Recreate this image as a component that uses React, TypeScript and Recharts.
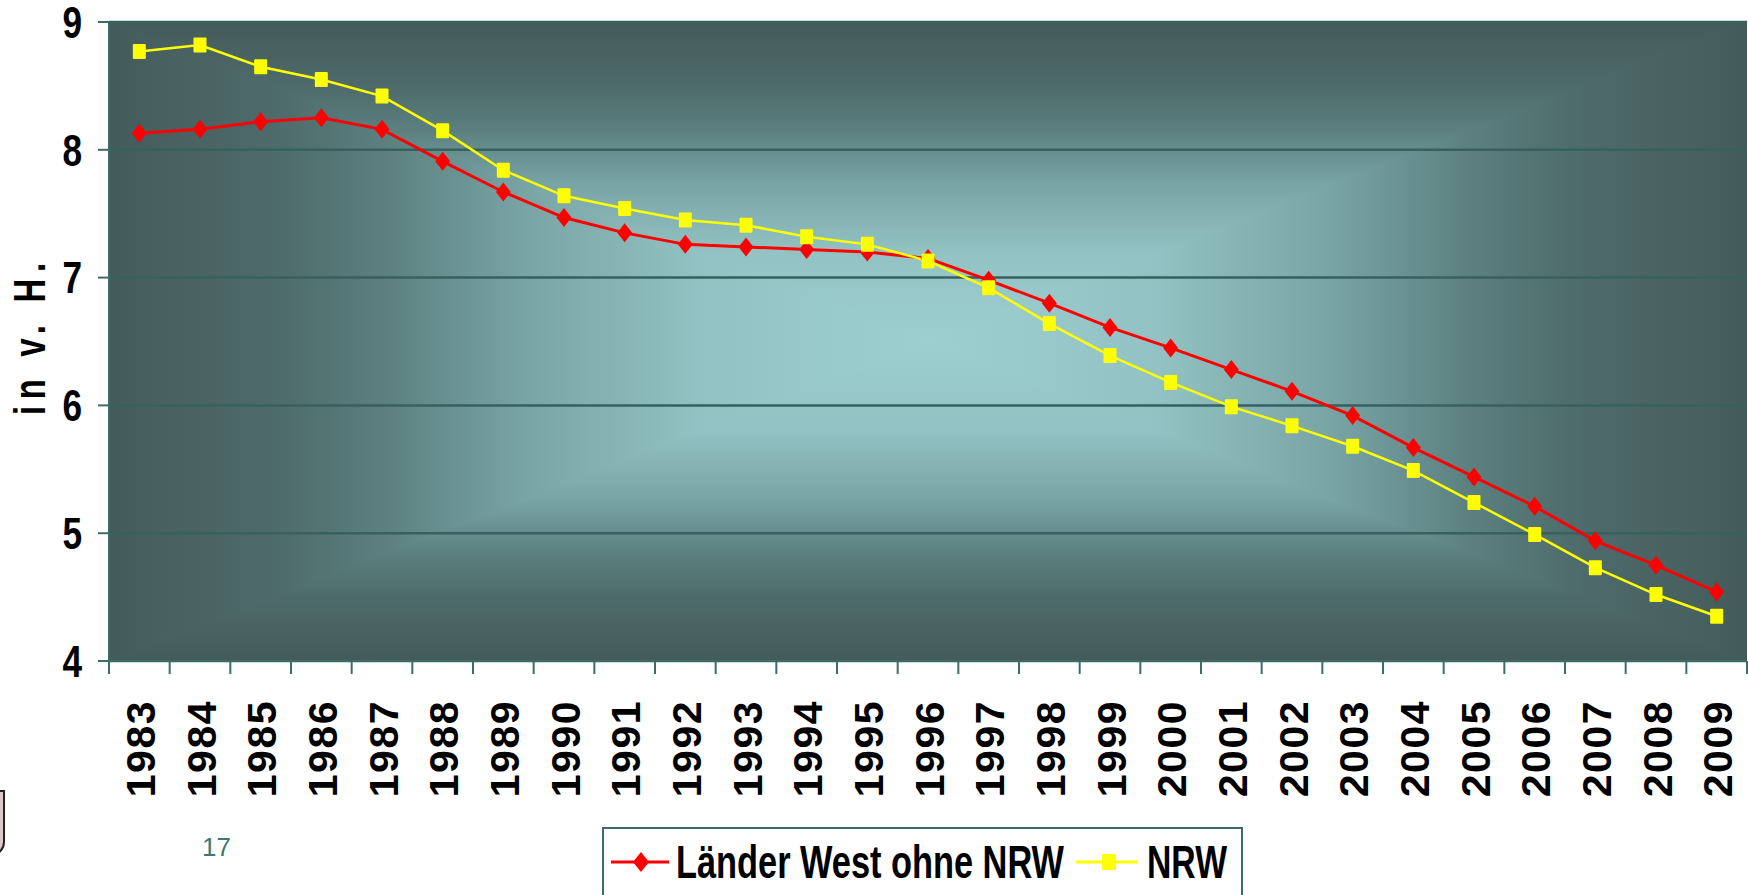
import React from 'react';
import { LineChart, Line, XAxis, YAxis, CartesianGrid } from 'recharts';

// Anteile in v. H.
const years = [
  '1983', '1984', '1985', '1986', '1987', '1988', '1989', '1990', '1991',
  '1992', '1993', '1994', '1995', '1996', '1997', '1998', '1999', '2000',
  '2001', '2002', '2003', '2004', '2005', '2006', '2007', '2008', '2009',
];
const westOhneNrw = [
  8.13, 8.16, 8.22, 8.25, 8.16, 7.91, 7.67, 7.47, 7.35,
  7.26, 7.24, 7.22, 7.20, 7.15, 6.98, 6.80, 6.61, 6.45,
  6.28, 6.11, 5.92, 5.67, 5.44, 5.21, 4.94, 4.75, 4.54,
];
const nrw = [
  8.77, 8.82, 8.65, 8.55, 8.42, 8.15, 7.84, 7.64, 7.54,
  7.45, 7.41, 7.32, 7.26, 7.13, 6.92, 6.64, 6.39, 6.18,
  5.99, 5.84, 5.68, 5.49, 5.24, 4.99, 4.73, 4.52, 4.35,
];
const yTicks = [4, 5, 6, 7, 8, 9];

const data = years.map((year, i) => ({ year, west: westOhneNrw[i], nrw: nrw[i] }));

const W = 1748;
const H = 895;
const Y_AXIS_W = 109;
const RIGHT = 1;
const X_AXIS_H = 234;
const BAND = (W - Y_AXIS_W - RIGHT) / years.length;

const TEAL = '#3d6b69';
const GRID = '#37615f';
const FONT = '"Liberation Sans", Arial, sans-serif';

// edge -> centre colours of the "from centre" slide fill
const bgStops: [number, string][] = [
  [0, '#445b5b'],
  [0.2, '#4e6a6a'],
  [0.34, '#5c8080'],
  [0.5, '#78a3a3'],
  [0.72, '#92c2c3'],
  [1, '#9ecfd0'],
];

const Stops = () => (
  <>
    {bgStops.map(([o, c]) => (
      <stop key={o} offset={o} stopColor={c} />
    ))}
  </>
);

const Diamond = (props: any) => {
  const { cx, cy, index } = props;
  if (cx == null || cy == null) return <g key={index} />;
  return (
    <polygon
      key={index}
      points={`${cx},${cy - 9.5} ${cx + 7.5},${cy} ${cx},${cy + 9.5} ${cx - 7.5},${cy}`}
      fill="#ff0000"
    />
  );
};

const Square = (props: any) => {
  const { cx, cy, index } = props;
  if (cx == null || cy == null) return <g key={index} />;
  return <rect key={index} x={cx - 6.5} y={cy - 7.5} width={13} height={15} rx={1} fill="#ffff00" />;
};

const YearTick = (props: any) => {
  const { x, y, payload, index } = props;
  const half = BAND / 2;
  const top = y - 15;
  return (
    <g>
      <line x1={x - half} y1={top} x2={x - half} y2={top + 13} stroke={TEAL} strokeWidth={2} />
      {index === years.length - 1 && (
        <line x1={x + half} y1={top} x2={x + half} y2={top + 13} stroke={TEAL} strokeWidth={2} />
      )}
      <text
        x={x}
        y={y + 24}
        transform={`rotate(-90 ${x} ${y + 24})`}
        textAnchor="end"
        dy="0.38em"
        fontFamily={FONT}
        fontWeight="bold"
        fontSize={41}
        letterSpacing={1.5}
        fill="#000"
      >
        {payload.value}
      </text>
    </g>
  );
};

const ValueTick = (props: any) => {
  const { x, y, payload } = props;
  return (
    <text
      transform={`translate(${x},${y}) scale(0.8,1)`}
      textAnchor="end"
      dy="0.36em"
      fontFamily={FONT}
      fontWeight="bold"
      fontSize={44}
      fill="#000"
    >
      {payload.value}
    </text>
  );
};

const Legend = () => (
  <div
    style={{
      position: 'absolute',
      left: 602,
      top: 827,
      width: 637,
      height: 80,
      border: `2px solid ${TEAL}`,
      background: '#fff',
    }}
  >
    <svg width={637} height={80}>
      <line x1={7} y1={33} x2={65} y2={33} stroke="#ff0000" strokeWidth={3} />
      <polygon points="37,23 45,33 37,43 29,33" fill="#ff0000" />
      <text x={72} y={49} textLength={388} lengthAdjust="spacingAndGlyphs" fontFamily={FONT} fontWeight="bold" fontSize={46}>
        Länder West ohne NRW
      </text>
      <line x1={472} y1={33} x2={533} y2={33} stroke="#ffff00" strokeWidth={3} />
      <rect x={498} y={25} width={14} height={16} fill="#ffff00" />
      <text x={543} y={49} textLength={80} lengthAdjust="spacingAndGlyphs" fontFamily={FONT} fontWeight="bold" fontSize={46}>
        NRW
      </text>
    </svg>
  </div>
);

export default function App() {
  return (
    <div style={{ position: 'absolute', left: 0, top: 0, width: W, height: H, overflow: 'hidden', background: '#fff' }}>
      <LineChart width={W} height={H} data={data} margin={{ top: 22, right: RIGHT, bottom: 0, left: 0 }}>
        <defs>
          <linearGradient id="gTop" x1="0" y1="0" x2="0" y2="1"><Stops /></linearGradient>
          <linearGradient id="gBot" x1="0" y1="1" x2="0" y2="0"><Stops /></linearGradient>
          <linearGradient id="gLeft" x1="0" y1="0" x2="1" y2="0"><Stops /></linearGradient>
          <linearGradient id="gRight" x1="1" y1="0" x2="0" y2="0"><Stops /></linearGradient>
          <pattern id="bgPat" patternUnits="objectBoundingBox" patternContentUnits="objectBoundingBox" width="1" height="1">
            <polygon points="0,0 0,1 0.5,0.5" fill="url(#gLeft)" />
            <polygon points="1,0 1,1 0.5,0.5" fill="url(#gRight)" />
            <polygon points="0,0 1,0 0.5,0.5" fill="url(#gTop)" stroke="url(#gTop)" strokeWidth={0.002} />
            <polygon points="0,1 1,1 0.5,0.5" fill="url(#gBot)" stroke="url(#gBot)" strokeWidth={0.002} />
          </pattern>
        </defs>
        <CartesianGrid fill="url(#bgPat)" fillOpacity={1} vertical={false} stroke={GRID} strokeWidth={2.5} />
        <XAxis
          dataKey="year"
          interval={0}
          height={X_AXIS_H}
          padding={{ left: BAND / 2, right: BAND / 2 }}
          tickLine={false}
          tickSize={13}
          axisLine={{ stroke: TEAL, strokeWidth: 2 }}
          tick={<YearTick />}
        />
        <YAxis
          width={Y_AXIS_W}
          domain={[4, 9]}
          ticks={yTicks}
          tickSize={11}
          tickMargin={16}
          tickLine={{ stroke: TEAL, strokeWidth: 2 }}
          axisLine={{ stroke: TEAL, strokeWidth: 2 }}
          tick={<ValueTick />}
          label={({ viewBox }: any) => (
            <text
              transform={`translate(${(viewBox?.x ?? 0) + 29},339) rotate(-90) scale(0.75,1)`}
              textAnchor="middle"
              dy="0.36em"
              textLength={203}
              fontFamily={FONT}
              fontWeight="bold"
              fontSize={44}
              fill="#000"
            >
              in v. H.
            </text>
          )}
        />
        <Line
          type="linear"
          dataKey="west"
          name="Länder West ohne NRW"
          stroke="#ff0000"
          strokeWidth={3}
          dot={Diamond}
          activeDot={false}
          isAnimationActive={false}
        />
        <Line
          type="linear"
          dataKey="nrw"
          name="NRW"
          stroke="#ffff00"
          strokeWidth={2.5}
          dot={Square}
          activeDot={false}
          isAnimationActive={false}
        />
      </LineChart>
      <Legend />
      <div
        style={{
          position: 'absolute',
          left: 202,
          top: 832,
          fontFamily: FONT,
          fontSize: 26,
          color: '#3f7676',
          lineHeight: '30px',
        }}
      >
        17
      </div>
      <div
        style={{
          position: 'absolute',
          left: -16,
          top: 790,
          width: 17,
          height: 62,
          border: '2px solid #222',
          background: '#dcc7cb',
          borderRadius: '0 0 14px 0',
        }}
      />
    </div>
  );
}
